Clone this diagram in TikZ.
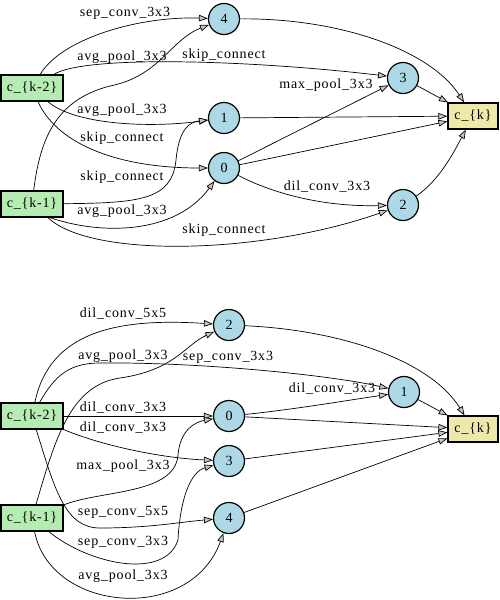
\documentclass[tikz,border=0pt]{standalone}
\usepackage{fontspec}
\setmainfont{Liberation Serif}[LetterSpace=6]
\usetikzlibrary{arrows.meta}
\definecolor{ingreen}{RGB}{180,236,180}
\definecolor{midblue}{RGB}{173,216,230}
\definecolor{outyellow}{RGB}{238,232,170}
\tikzset{
  inbox/.style={draw, line width=1.2pt, fill=ingreen, minimum width=62pt, minimum height=26pt, inner sep=0pt},
  midnode/.style={circle, draw, line width=1.2pt, fill=midblue, minimum size=31pt, inner sep=0pt},
  outbox/.style={draw, line width=1.2pt, fill=outyellow, minimum width=50pt, minimum height=26pt, inner sep=0pt},
  lbl/.style={inner sep=0pt},
  edge/.style={draw, line width=0.7pt, -{Triangle[length=9pt,width=6.5pt,fill=gray!45]}}
}
\begin{document}
\begin{tikzpicture}[x=1pt,y=-1pt,font=\fontsize{14}{16}\selectfont]
\useasboundingbox (0,0) rectangle (500,600);
% ---------- top cell ----------
\node[inbox] (k2) at (32,88) {c\_\{k-2\}};
\node[inbox] (k1) at (32,204) {c\_\{k-1\}};
\node[midnode] (n4) at (224,19) {4};
\node[midnode] (n3) at (403,78) {3};
\node[midnode] (n1) at (224,118) {1};
\node[midnode] (n0) at (224,168) {0};
\node[midnode] (n2) at (403,205) {2};
\node[outbox] (ck) at (473,116) {c\_\{k\}};

\draw[edge] (k2) .. controls (62,38) and (140,16) .. (n4);
\draw[edge] (k2) .. controls (85,55) and (250,60) .. (n3);
\draw[edge] (k1) .. controls (40,140) and (55,100) .. (110,86) .. controls (160,76) and (170,40) .. (n4);
\draw[edge] (k2) .. controls (75,125) and (150,128) .. (n1);
\draw[edge] (k2) .. controls (55,140) and (110,168) .. (n0);
\draw[edge] (k1) .. controls (140,203) and (172,200) .. (176,160) .. controls (179,128) and (190,122) .. (n1);
\draw[edge] ([xshift=18pt]k1.south) .. controls (100,235) and (175,235) .. (n0);
\draw[edge] ([xshift=16pt]k1.south) .. controls (90,258) and (260,255) .. (n2);
\draw[edge] (n0) -- (n3);
\draw[edge] (n0) .. controls (270,192) and (320,207) .. (n2);
\draw[edge] (n0) -- (ck);
\draw[edge] (n1) -- (ck);
\draw[edge] (n3) -- (ck);
\draw[edge] (n2) .. controls (440,180) and (455,150) .. (ck);
\draw[edge] (n4) .. controls (340,18) and (430,50) .. (ck);

\node[lbl] (t1) at (125,13) {sep\_conv\_3x3};
\node[lbl] (t2) at (122,57) {avg\_pool\_3x3};
\node[lbl] (t3) at (224,55) {skip\_connect};
\node[lbl] (t4) at (122,110) {avg\_pool\_3x3};
\node[lbl] (t5) at (122,138) {skip\_connect};
\node[lbl] (t6) at (122,177) {skip\_connect};
\node[lbl] (t7) at (122,211) {avg\_pool\_3x3};
\node[lbl] (t8) at (224,230) {skip\_connect};
\node[lbl] (t9) at (326,85) {max\_pool\_3x3};
\node[lbl] (t10) at (327,187) {dil\_conv\_3x3};

% ---------- bottom cell ----------
\node[inbox] (bk2) at (32,416) {c\_\{k-2\}};
\node[inbox] (bk1) at (32,518) {c\_\{k-1\}};
\node[midnode] (bn2) at (229,325) {2};
\node[midnode] (bn1) at (404,392) {1};
\node[midnode] (bn0) at (229,416) {0};
\node[midnode] (bn3) at (229,461) {3};
\node[midnode] (bn4) at (229,518) {4};
\node[outbox] (bck) at (473,429) {c\_\{k\}};

\draw[edge] (bk2) .. controls (50,330) and (120,318) .. (bn2);
\draw[edge] (bk2) .. controls (55,375) and (70,363) .. (100,363) .. controls (200,362) and (330,375) .. (bn1);
\draw[edge] (bk1) .. controls (55,440) and (70,385) .. (120,378) .. controls (175,370) and (185,345) .. (bn2);
\draw[edge] (bk2) -- (bn0);
\draw[edge] (bk2) .. controls (100,445) and (160,458) .. (bn3);
\draw[edge] (bk1) .. controls (100,490) and (175,495) .. (178,455) .. controls (180,430) and (195,422) .. (bn0);
\draw[edge] (bk2) .. controls (55,490) and (65,528) .. (100,528) .. controls (150,528) and (180,522) .. (bn4);
\draw[edge] (bk1) .. controls (90,565) and (165,580) .. (178,540) .. controls (180,500) and (190,472) .. (bn3);
\draw[edge] (bk1) .. controls (50,612) and (190,625) .. (bn4);
\draw[edge] (bn0) .. controls (290,410) and (350,400) .. (bn1);
\draw[edge] (bn0) -- (bck);
\draw[edge] (bn1) -- (bck);
\draw[edge] (bn3) -- (bck);
\draw[edge] (bn4) -- (bck);
\draw[edge] (bn2) .. controls (340,330) and (430,360) .. (bck);

\node[lbl] (s1) at (123,314) {dil\_conv\_5x5};
\node[lbl] (s2) at (123,356) {avg\_pool\_3x3};
\node[lbl] (s3) at (228,357) {sep\_conv\_3x3};
\node[lbl] (s4) at (123,408) {dil\_conv\_3x3};
\node[lbl] (s5) at (123,428) {dil\_conv\_3x3};
\node[lbl] (s6) at (123,466) {max\_pool\_3x3};
\node[lbl] (s7) at (123,512) {sep\_conv\_5x5};
\node[lbl] (s8) at (123,542) {sep\_conv\_3x3};
\node[lbl] (s9) at (123,576) {avg\_pool\_3x3};
\node[lbl] (s10) at (332,389) {dil\_conv\_3x3};
\end{tikzpicture}
\end{document}
